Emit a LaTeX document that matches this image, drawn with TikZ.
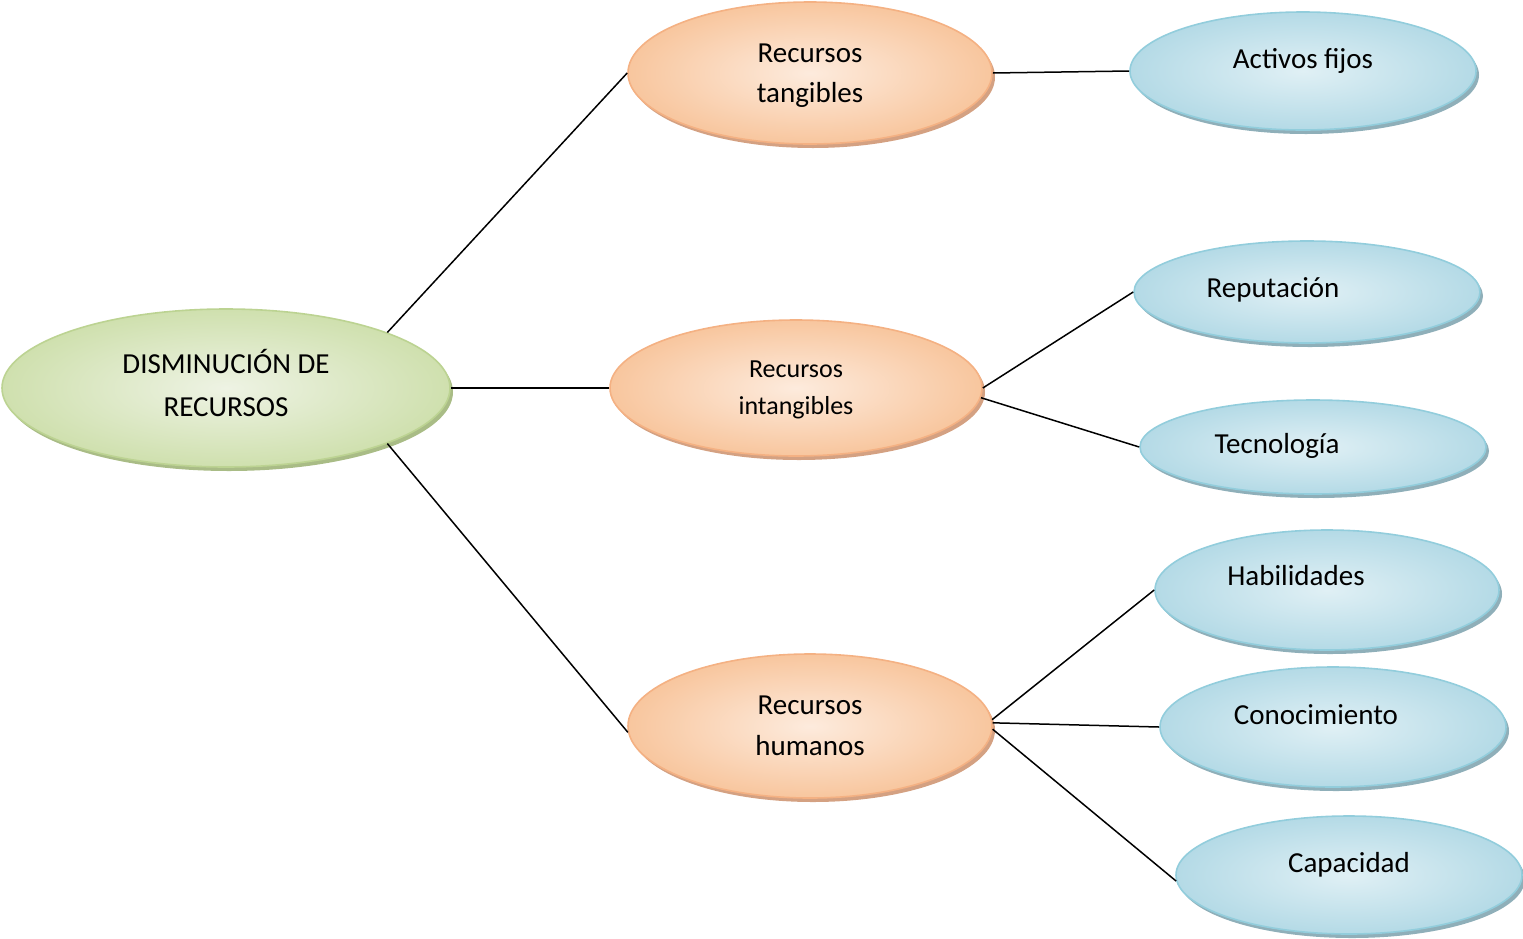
\documentclass[tikz,border=0pt]{standalone}
\usepackage{fontspec}
\setmainfont{Carlito}
\usetikzlibrary{shapes.geometric,shadows}
\definecolor{grnIn}{HTML}{EEF3E4}
\definecolor{grnOut}{HTML}{CFE0AE}
\definecolor{grnLine}{HTML}{BCD392}
\definecolor{grnSh}{HTML}{A9BC86}
\definecolor{orIn}{HTML}{FDEBDD}
\definecolor{orOut}{HTML}{F8C69E}
\definecolor{orLine}{HTML}{F4B183}
\definecolor{orSh}{HTML}{D4A182}
\definecolor{blIn}{HTML}{E0F0F5}
\definecolor{blOut}{HTML}{B4DAE6}
\definecolor{blLine}{HTML}{92CDDC}
\definecolor{blSh}{HTML}{8FAFB9}
\tikzset{
  oval/.style={ellipse, inner sep=0pt, line width=1.6pt, shading=radial},
  green/.style={oval, draw=grnLine, inner color=grnIn, outer color=grnOut,
    general shadow={fill=grnSh, shadow xshift=3pt, shadow yshift=-4pt}},
  orange/.style={oval, draw=orLine, inner color=orIn, outer color=orOut,
    general shadow={fill=orSh, shadow xshift=3pt, shadow yshift=-4pt}},
  blue/.style={oval, draw=blLine, inner color=blIn, outer color=blOut,
    general shadow={fill=blSh, shadow xshift=3pt, shadow yshift=-4pt}},
  lbl/.style={anchor=base, inner sep=0pt, text=black, font=\fontsize{29}{35}\selectfont},
  lbls/.style={lbl, font=\fontsize{26}{31}\selectfont},
  conn/.style={draw=black, line width=1.5pt}
}
\begin{document}
\begin{tikzpicture}[x=1pt, y=-1pt]
\useasboundingbox (0,0) rectangle (1523,938);
% ellipses
\node[green, minimum width=448pt, minimum height=158pt] (root) at (226,388) {};
\node[orange, minimum width=364pt, minimum height=142pt] (tang) at (810,73) {};
\node[orange, minimum width=372pt, minimum height=136pt] (intang) at (796,388) {};
\node[orange, minimum width=364pt, minimum height=144pt] (hum) at (810,726) {};
\node[blue, minimum width=346pt, minimum height=118pt] (act) at (1303,71) {};
\node[blue, minimum width=346pt, minimum height=102pt] (rep) at (1307,292) {};
\node[blue, minimum width=346pt, minimum height=94pt] (tec) at (1313,447) {};
\node[blue, minimum width=344pt, minimum height=120pt] (hab) at (1327,590) {};
\node[blue, minimum width=346pt, minimum height=120pt] (con) at (1333,727) {};
\node[blue, minimum width=346pt, minimum height=118pt] (cap) at (1349,875) {};
% connectors
\draw[conn] (root.19.6) -- (tang.180);
\draw[conn] (root.0) -- (intang.180);
\draw[conn] (root.-19.7) -- (hum.182);
\draw[conn] (tang.0) -- (act.180);
\draw[conn] (intang.0) -- (rep.180);
\draw[conn] (intang.-3) -- (tec.180);
\draw[conn] (hum.2) -- (hab.180);
\draw[conn] (hum.1) -- (con.180);
\draw[conn] (hum.-1) -- (cap.182);
% labels
\node[lbl] (rootA) at (226,373) {DISMINUCIÓN DE};
\node[lbl] (rootB) at (226,416) {RECURSOS};
\node[lbl] (tangA) at (810,62) {Recursos};
\node[lbl] (tangB) at (810,102) {tangibles};
\node[lbls] (intA) at (796,377) {Recursos};
\node[lbls] (intB) at (796,414) {intangibles};
\node[lbl] (humA) at (810,714) {Recursos};
\node[lbl] (humB) at (810,755) {humanos};
\node[lbl] (actT) at (1303,68) {Activos fijos};
\node[lbl] (repT) at (1273,297) {Reputación};
\node[lbl] (tecT) at (1277,453) {Tecnología};
\node[lbl] (habT) at (1296,585) {Habilidades};
\node[lbl] (conT) at (1316,724) {Conocimiento};
\node[lbl] (capT) at (1349,872) {Capacidad};
\end{tikzpicture}
\end{document}
